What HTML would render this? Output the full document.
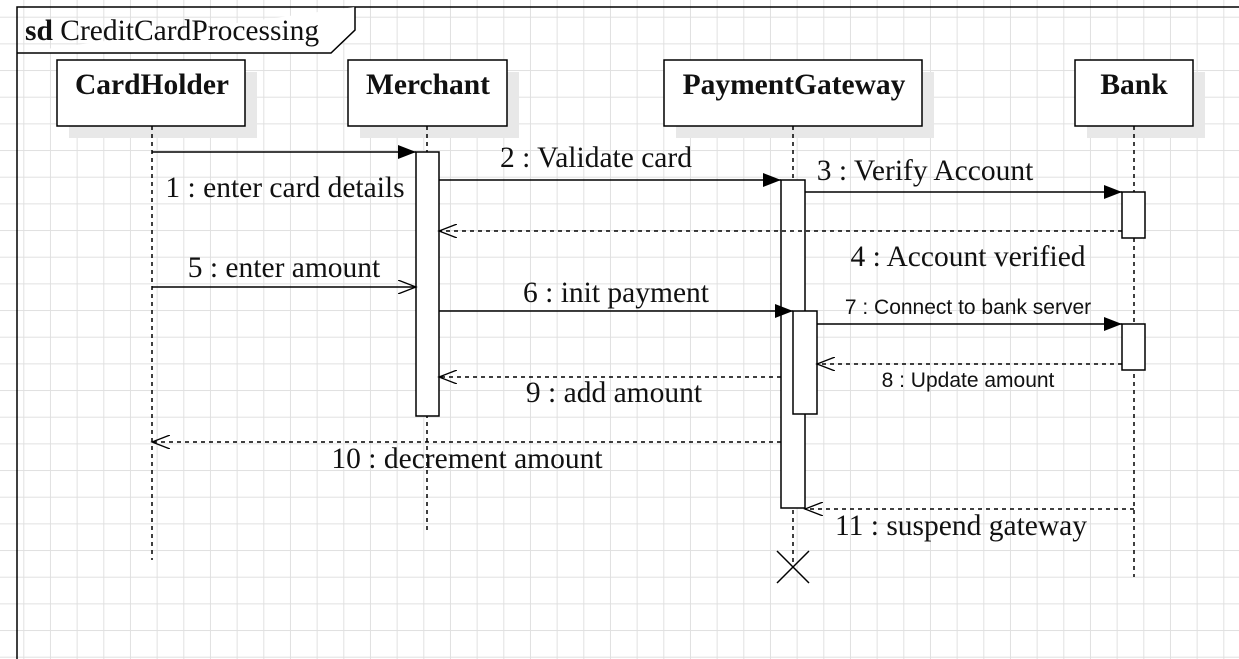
<!DOCTYPE html>
<html><head><meta charset="utf-8"><style>
html,body{margin:0;padding:0;background:#fff;overflow:hidden;width:1239px;height:659px;}
svg{display:block;}
.s{font-family:"Liberation Serif",serif;font-size:29.5px;fill:#111;}
.b{font-family:"Liberation Serif",serif;font-size:29.5px;font-weight:bold;fill:#111;}
.a{font-family:"Liberation Sans",sans-serif;font-size:21px;fill:#111;}
</style></head><body>
<svg width="1239" height="659" viewBox="0 0 1239 659" xmlns="http://www.w3.org/2000/svg">
<defs>
<pattern id="g" x="23.3" y="16.7" width="26.667" height="26.667" patternUnits="userSpaceOnUse">
<path d="M0 0.5H26.667M0.5 0V26.667" stroke="#e0e0e0" stroke-width="1" fill="none"/>
</pattern>
<marker id="f" markerWidth="20" markerHeight="14" refX="18" refY="7" orient="auto" markerUnits="userSpaceOnUse"><path d="M0 0L18 7L0 14Z" fill="#000"/></marker>
<marker id="o" markerWidth="20" markerHeight="14" refX="18" refY="7" orient="auto" markerUnits="userSpaceOnUse"><path d="M0 0L18 7L0 14" fill="none" stroke="#000" stroke-width="1.3"/></marker>
</defs>
<rect width="1239" height="659" fill="#fff"/>
<rect width="1239" height="659" fill="url(#g)"/>
<g stroke="#000" stroke-width="1.5" fill="none">
<path d="M17 659V7H1239"/>
<path d="M17 53H331L355 30V7" fill="#fff"/>
</g>
<text x="25" y="40" class="s"><tspan font-weight="bold">sd</tspan> CreditCardProcessing</text>
<g fill="#e8e8e8">
<rect x="69" y="72" width="188" height="66"/><rect x="360" y="72" width="159" height="66"/>
<rect x="676" y="72" width="258" height="66"/><rect x="1087" y="72" width="118" height="66"/>
</g>
<g stroke="#000" stroke-width="1.5" fill="#fff">
<rect x="57" y="60" width="188" height="66"/><rect x="348" y="60" width="159" height="66"/>
<rect x="664" y="60" width="258" height="66"/><rect x="1075" y="60" width="118" height="66"/>
</g>
<text x="152" y="94" class="b" text-anchor="middle">CardHolder</text>
<text x="428" y="94" class="b" text-anchor="middle">Merchant</text>
<text x="794" y="94" class="b" text-anchor="middle">PaymentGateway</text>
<text x="1134" y="94" class="b" text-anchor="middle">Bank</text>
<g stroke="#000" stroke-width="1.5" stroke-dasharray="4,4">
<line x1="152" y1="126" x2="152" y2="560"/><line x1="427" y1="126" x2="427" y2="530"/>
<line x1="793" y1="126" x2="793" y2="567"/><line x1="1134" y1="126" x2="1134" y2="577"/>
</g>
<g stroke="#000" stroke-width="1.5" fill="#fff">
<rect x="416" y="152" width="23" height="264"/>
<rect x="781" y="180" width="24" height="328"/>
<rect x="793" y="311" width="24" height="103"/>
<rect x="1122" y="192" width="23" height="46"/>
<rect x="1122" y="324" width="23" height="46"/>
</g>
<g stroke="#000" stroke-width="1.5" fill="none">
<line x1="152" y1="152" x2="416" y2="152" marker-end="url(#f)"/>
<line x1="439" y1="180" x2="781" y2="180" marker-end="url(#f)"/>
<line x1="805" y1="192" x2="1122" y2="192" marker-end="url(#f)"/>
<line x1="1122" y1="231" x2="439" y2="231" stroke-dasharray="4,4" marker-end="url(#o)"/>
<line x1="152" y1="287" x2="416" y2="287" marker-end="url(#o)"/>
<line x1="439" y1="311" x2="793" y2="311" marker-end="url(#f)"/>
<line x1="817" y1="324" x2="1122" y2="324" marker-end="url(#f)"/>
<line x1="1122" y1="364" x2="817" y2="364" stroke-dasharray="4,4" marker-end="url(#o)"/>
<line x1="781" y1="377" x2="439" y2="377" stroke-dasharray="4,4" marker-end="url(#o)"/>
<line x1="781" y1="442" x2="152" y2="442" stroke-dasharray="4,4" marker-end="url(#o)"/>
<path d="M1134 509H805" stroke-dasharray="4,4" marker-end="url(#o)"/>
<path d="M777 551L809 583M809 551L777 583"/>
</g>
<text x="285" y="197" class="s" text-anchor="middle">1 : enter card details</text>
<text x="596" y="167" class="s" text-anchor="middle">2 : Validate card</text>
<text x="925" y="180" class="s" text-anchor="middle">3 : Verify Account</text>
<text x="968" y="266" class="s" text-anchor="middle">4 : Account verified</text>
<text x="284" y="277" class="s" text-anchor="middle">5 : enter amount</text>
<text x="616" y="302" class="s" text-anchor="middle">6 : init payment</text>
<text x="968" y="314" class="a" text-anchor="middle">7 : Connect to bank server</text>
<text x="968" y="387" class="a" text-anchor="middle">8 : Update amount</text>
<text x="614" y="402" class="s" text-anchor="middle">9 : add amount</text>
<text x="467" y="468" class="s" text-anchor="middle">10 : decrement amount</text>
<text x="961" y="535" class="s" text-anchor="middle">11 : suspend gateway</text>
</svg>
</body></html>
